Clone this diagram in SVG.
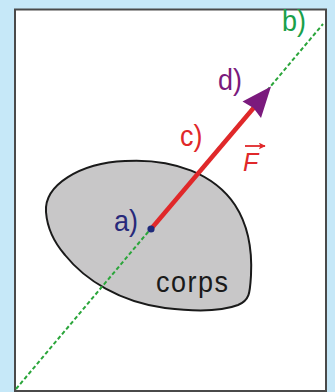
<svg xmlns="http://www.w3.org/2000/svg" width="335" height="392" viewBox="0 0 335 392">
<defs>
<style>
.lbl{font-family:"Liberation Sans",Arial,Helvetica,sans-serif;font-size:27px}
</style>
<marker id="fArrow" viewBox="0 0 10 10" refX="9" refY="5" markerWidth="7" markerHeight="7" markerUnits="userSpaceOnUse" orient="auto">
<path d="M0,0 L10,5 L0,10 L2.5,5 Z" fill="#e0282a"/>
</marker>
</defs>
<rect x="0" y="0" width="335" height="392" fill="#c6e8f8"/>
<rect x="15" y="9.5" width="311" height="381.5" fill="#ffffff" stroke="#4a4a4a" stroke-width="2"/>
<g id="corps">
<path d="M46,212 C44,185 80,163 125,161 C175,158 215,175 235,205 C250,228 252,255 251,275 C250,292 250,300 238,305 C220,312 190,311 165,308 C120,302 85,280 65,255 C52,240 47,225 46,212 Z" fill="#c8c7c8" stroke="#1a1a1a" stroke-width="2"/>
<text class="lbl" transform="translate(156,292) scale(1,1.08)" font-size="28" fill="#1a1a1a" textLength="72">corps</text>
</g>
<g id="connectors">
<line id="line-b" x1="16" y1="389" x2="323" y2="24" stroke="#2aa53a" stroke-width="2" stroke-dasharray="4 2.5"/>
<line id="vector-c" x1="151" y1="229" x2="254" y2="107.5" stroke="#e0282a" stroke-width="4.5"/>
<polygon id="head-d" points="271,86.5 261,118 253.5,108 242.5,101.5" fill="#7b1a7d"/>
</g>
<g id="point-a">
<circle cx="151" cy="229" r="3.6" fill="#1f2a7a"/>
<text class="lbl" transform="translate(114,231) scale(1,1.12)" fill="#27297a">a)</text>
</g>
<g id="label-b">
<text class="lbl" transform="translate(282,31) scale(1,1.12)" fill="#1aa04a">b)</text>
</g>
<g id="label-c">
<text class="lbl" transform="translate(180,146) scale(1,1.12)" fill="#e0282a">c)</text>
</g>
<g id="label-d">
<text class="lbl" transform="translate(218,90) scale(1,1.12)" fill="#7b1a7d">d)</text>
</g>
<g id="label-F">
<text transform="translate(243,171) scale(1,1.05)" font-family="'Liberation Sans',Arial,sans-serif" font-style="italic" font-size="25" fill="#e0282a">F</text>
<line x1="245" y1="146" x2="265" y2="146" stroke="#e0282a" stroke-width="1.8" marker-end="url(#fArrow)"/>
</g>
</svg>
